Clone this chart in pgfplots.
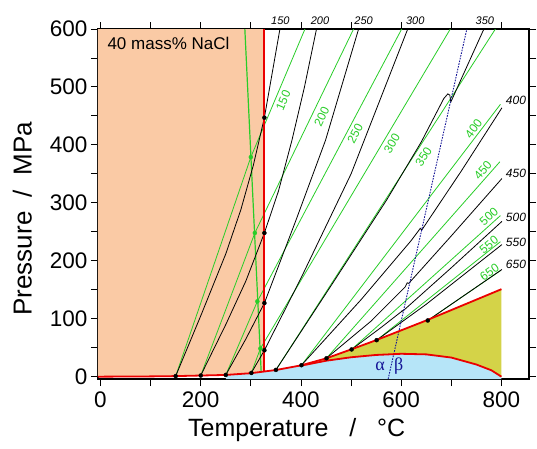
\documentclass[border=0pt]{standalone}
\usepackage{fontspec}
\setmainfont{Liberation Sans}
\newfontfamily\seriffont{Liberation Serif}
\usepackage{pgfplots}
\pgfplotsset{compat=1.18}

\definecolor{peach}{RGB}{250,202,165}
\definecolor{lblue}{RGB}{182,229,248}
\definecolor{olive}{RGB}{212,211,72}
\definecolor{gline}{RGB}{40,205,40}
\definecolor{rline}{RGB}{235,0,0}
\definecolor{navy}{RGB}{20,20,150}

\begin{document}
\begin{tikzpicture}
\useasboundingbox (-98bp,-70bp) rectangle (439bp,379bp);
\begin{axis}[
  scale only axis, width=431bp, height=350bp,
  xmin=-5, xmax=855, ymin=-4, ymax=600,
  xtick={0,200,...,800}, minor xtick={100,300,500,700},
  ytick={0,100,...,600}, minor ytick={50,150,...,550},
  tick align=outside, major tick length=7bp, minor tick length=7bp,
  every tick/.style={black, line width=0.9bp},
  axis line style={line width=1.3bp},
  /pgf/number format/assume math mode=true,
  ticklabel style={font=\fontsize{22.5bp}{24bp}\selectfont},
  xticklabel style={yshift=-2bp},
  xlabel={Temperature \ \ / \ \ °C},
  ylabel={Pressure \ / \ MPa},
  xlabel style={font=\fontsize{25bp}{27bp}\selectfont, at={(axis description cs:0.461,-0.1649)}, anchor=base},
  ylabel style={font=\fontsize{26bp}{28bp}\selectfont, at={(axis description cs:-0.1538,0.458)}, anchor=base},
  clip mode=individual,
]
% fills
\addplot[fill=peach, draw=none] coordinates {(-5,0)(100,0.5)(150,1)(200,2)(250,3)(300,6)(327,8.5)(327,600)(-5,600)} -- cycle;
\addplot[fill=lblue, draw=none] coordinates {(250,-4)(250,3)(300,6)(350,11.5)(400,19)(450,27.5)(500,33.5)(550,37.5)(600,39.5)(650,38.5)(700,33)(750,21)(780,11)(800,0)(800,-4)} -- cycle;
\addplot[fill=olive, draw=none] coordinates {(420,25)(450,31.5)(500,47)(550,63)(600,80)(650,97)(700,115)(750,133)(800,151)(800,0)(780,11)(750,21)(700,33)(650,38.5)(600,39.5)(550,37.5)(500,33.5)(450,27.5)} -- cycle;

% green isochores
\addplot[gline, line width=0.8bp] coordinates {(150,1)(300,379)(408,600)};
\addplot[gline, line width=0.8bp] coordinates {(200,2)(308,248)(505,600)};
\addplot[gline, line width=0.8bp] coordinates {(250,3)(313,130)(601,600)};
\addplot[gline, line width=0.8bp] coordinates {(301,6.5)(319,48.5)(698,600)};
\addplot[gline, line width=0.8bp] coordinates {(350,11.7)(788,600)};
\addplot[gline, line width=0.8bp] coordinates {(401,19.8)(798,470)};
\addplot[gline, line width=0.8bp] coordinates {(451,32)(797,371)};
\addplot[gline, line width=0.8bp] coordinates {(501,47)(798,278)};
\addplot[gline, line width=0.8bp] coordinates {(551,63)(798,233)};
\addplot[gline, line width=0.8bp] coordinates {(653,97)(798,183)};
\addplot[gline, line width=1.2bp] coordinates {(320.5,10)(288,600)};

% black isochores
\addplot[black, line width=0.8bp] coordinates {(150,1)(200,105)(250,212)(280,288)(305,365)(327,447)(358,600)};
\addplot[black, line width=0.8bp] coordinates {(200,2)(250,90)(290,165)(327,248)(355,320)(382,408)(407,500)(431,600)};
\addplot[black, line width=0.8bp] coordinates {(250,3)(290,65)(327,127)(390,270)(449,408)(515,600)};
\addplot[black, line width=0.8bp] coordinates {(301,6.5)(327,45.5)(400,170)(500,350)(613,600)};
\addplot[black, line width=0.8bp] coordinates {(350,11.7)(460,157)(571,305)(640,405)(685,480)(693,488)(697,486)(699,474)(765,600)};
\addplot[black, line width=0.8bp] coordinates {(401,19.8)(520,133)(620,235)(633,250)(638,256)(641,253)(720,355)(801,464)};
\addplot[black, line width=0.8bp] coordinates {(451,32)(540,96)(608,155)(612,162)(615,161)(700,243)(801,342)};
\addplot[black, line width=0.8bp] coordinates {(501,47)(560,85)(600,112)(602,114)(603,113)(700,188)(801,268)};
\addplot[black, line width=0.8bp] coordinates {(551,63)(650,125)(801,228)};
\addplot[black, line width=0.8bp] coordinates {(653,97)(801,185)};

% quartz alpha-beta
\addplot[navy, line width=0.9bp, dash pattern=on 1.6bp off 1.2bp] coordinates {(574,-4)(731,600)};

% red boundaries
\addplot[rline, line width=1.8bp] coordinates {(-5,0)(100,0.5)(150,1)(200,2)(250,3)(300,6)(350,11.5)(400,19.5)(450,31.5)(500,47)(550,63)(600,80)(650,97)(700,115)(750,133)(800,151)};
\addplot[rline, line width=1.8bp] coordinates {(400,19)(450,27.5)(500,33.5)(550,37.5)(600,39.5)(650,38.5)(700,33)(750,21)(780,11)(800,0)};
\addplot[rline, line width=1.8bp] coordinates {(327,8.5)(327,600)};

% dots
\addplot[only marks, mark=*, mark size=2bp, black] coordinates {(150,1)(200,2)(250,3)(301,6.5)(350,11.7)(401,19.8)(451,31.8)(501,47)(551,63)(653,97)(327,447)(327,248)(327,127)(327,45.5)};
\addplot[only marks, mark=*, mark size=2bp, gline] coordinates {(300,379)(308,248)(313,130)(319,48.5)};

% texts
\node[anchor=base west, font=\fontsize{17bp}{18bp}\selectfont] at (axis cs:7,564) {40 mass\% NaCl};
\begin{scope}[every node/.style={font=\fontsize{11bp}{12bp}\selectfont\itshape, anchor=base}]
\node at (axis cs:359,607) {150};
\node at (axis cs:438,607) {200};
\node at (axis cs:525,607) {250};
\node at (axis cs:628,607) {300};
\node at (axis cs:767,607) {350};
\end{scope}
\begin{scope}[every node/.style={font=\fontsize{12bp}{13bp}\selectfont\itshape, anchor=base, inner sep=0pt}]
\node at (axis cs:829,470) {400};
\node at (axis cs:829,343) {450};
\node at (axis cs:829,267) {500};
\node at (axis cs:829,225) {550};
\node at (axis cs:829,186) {650};
\end{scope}
\begin{scope}[every node/.style={font=\fontsize{12bp}{13bp}\selectfont, text=gline, inner sep=0pt}]
\node[rotate=67] at (axis cs:364.6,476.8) {150};
\node[rotate=64] at (axis cs:441.4,448) {200};
\node[rotate=62] at (axis cs:508,419.6) {250};
\node[rotate=59] at (axis cs:581.4,402.4) {300};
\node[rotate=57] at (axis cs:644.6,379.4) {350};
\node[rotate=53] at (axis cs:744.6,428.2) {400};
\node[rotate=49] at (axis cs:763,356.5) {450};
\node[rotate=42] at (axis cs:775,276.3) {500};
\node[rotate=39] at (axis cs:775,227.7) {550};
\node[rotate=35] at (axis cs:776,180.7) {650};
\end{scope}
\node[text=navy, font=\seriffont\fontsize{18bp}{20bp}\selectfont] at (axis cs:558,18.6) {α};
\node[text=navy, font=\seriffont\fontsize{18bp}{20bp}\selectfont] at (axis cs:595,18.6) {β};
\end{axis}
\end{tikzpicture}
\end{document}
